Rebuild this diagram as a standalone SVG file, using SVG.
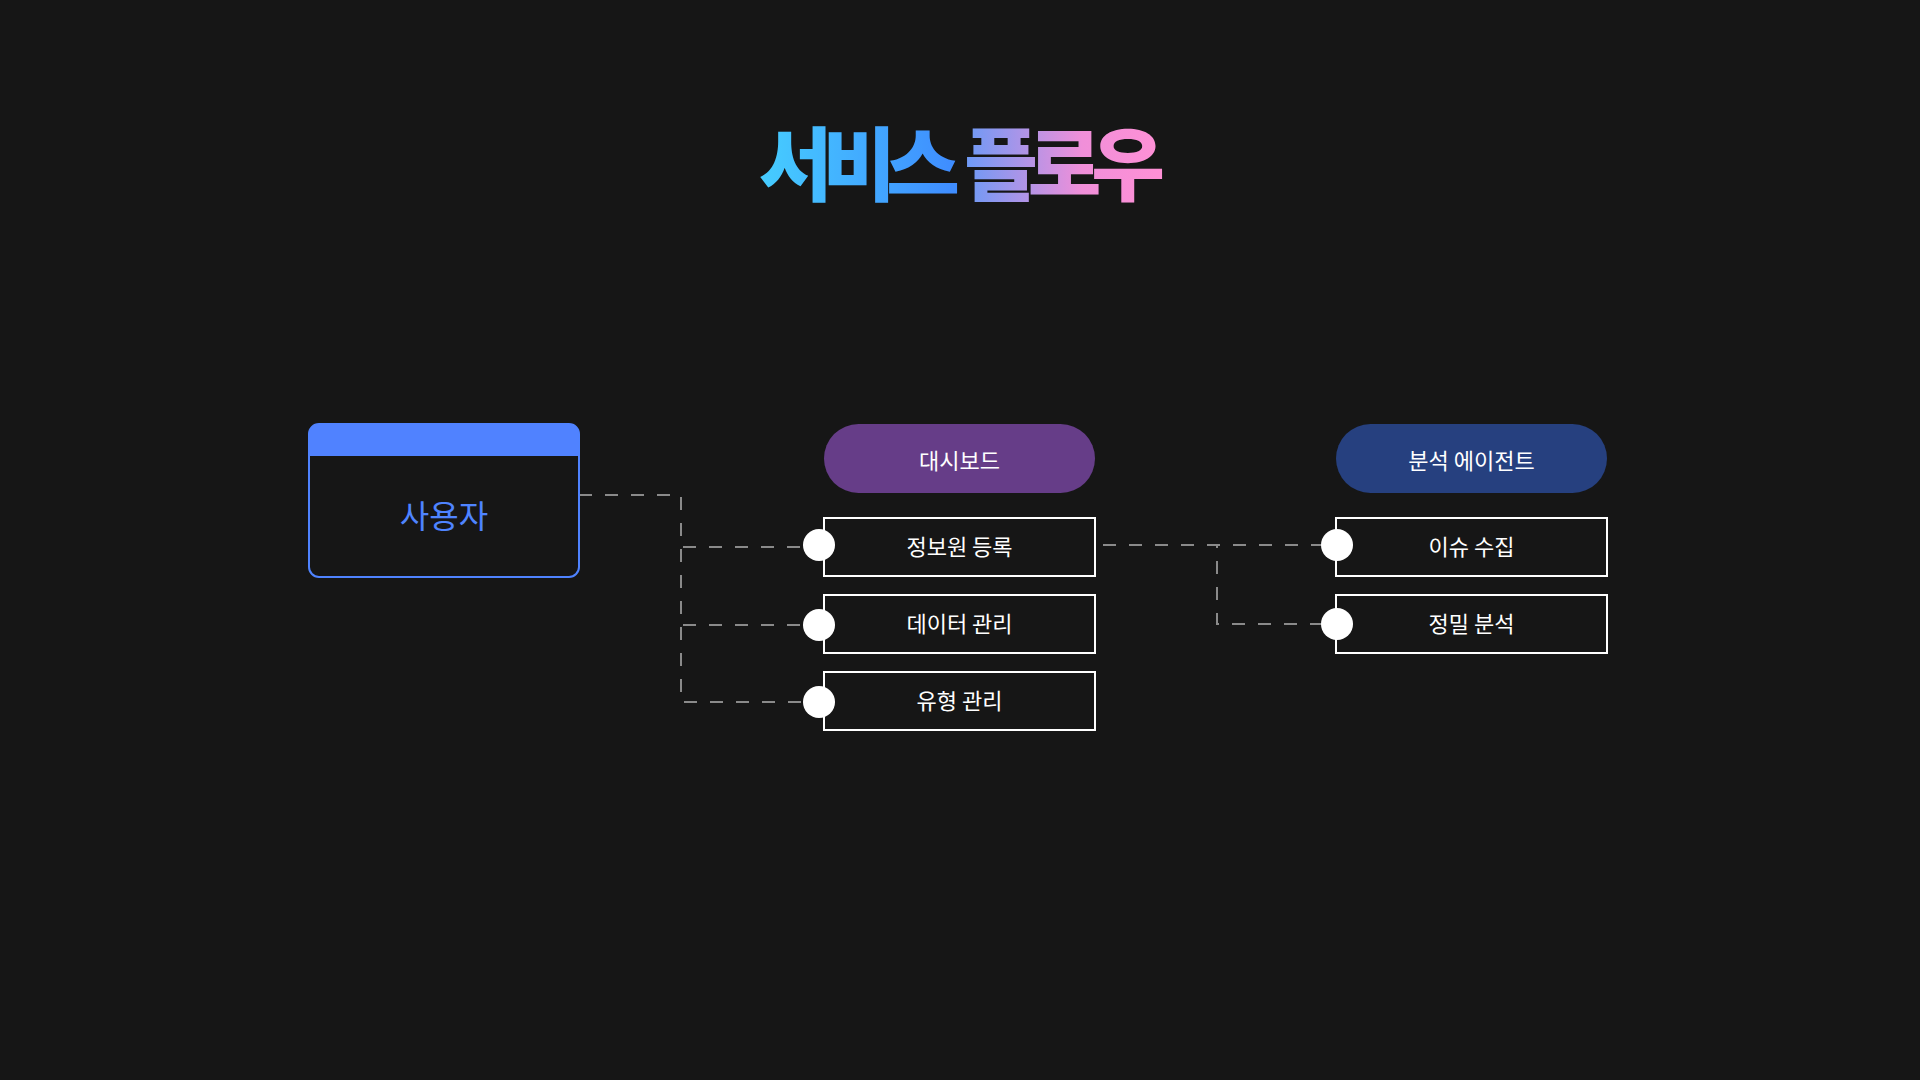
<svg xmlns="http://www.w3.org/2000/svg" width="1920" height="1080" viewBox="0 0 1920 1080">
  <defs>
    <linearGradient id="g1" gradientUnits="userSpaceOnUse" x1="758" y1="0" x2="952" y2="0">
      <stop offset="0" stop-color="#46ceff"/>
      <stop offset="1" stop-color="#3f8dff"/>
    </linearGradient>
    <linearGradient id="g2" gradientUnits="userSpaceOnUse" x1="965" y1="0" x2="1160" y2="0">
      <stop offset="0" stop-color="#6c9af6"/>
      <stop offset="0.6" stop-color="#f08fd9"/>
      <stop offset="1" stop-color="#ff90d6"/>
    </linearGradient>
    <style>
      .lbl { font-family: "Noto Sans CJK KR", "Noto Sans", sans-serif; font-size: 22px; fill: #ffffff; text-anchor: middle; }
      .box { fill: #161616; stroke: #ffffff; stroke-width: 2; }
      .dot { fill: #ffffff; }
      .conn { fill: none; stroke: #8a8a8a; stroke-width: 2; stroke-dasharray: 13 13; }
    </style>
  </defs>
  <rect width="1920" height="1080" fill="#161616"/>

  <text x="957" y="194" font-family="'Noto Sans CJK KR', sans-serif" font-weight="900" font-size="80" letter-spacing="-10" word-spacing="6" text-anchor="middle"><tspan fill="url(#g1)">서비스</tspan> <tspan fill="url(#g2)">플로우</tspan></text>

  <g id="connectors">
    <path class="conn" d="M579 495 H681 V547 H803"/>
    <path class="conn" d="M579 495 H681 V625 H803"/>
    <path class="conn" d="M579 495 H681 V702 H803"/>
    <path class="conn" d="M1103 545 H1321"/>
    <path class="conn" d="M1103 545 H1217 V624 H1321"/>
  </g>

  <g id="user">
    <rect x="309" y="424" width="270" height="153" rx="10" fill="#161616" stroke="#4f83ff" stroke-width="2"/>
    <path d="M309 456 V434 A10 10 0 0 1 319 424 H569 A10 10 0 0 1 579 434 V456 Z" fill="#5082ff"/>
    <text x="444" y="528" font-family="'Noto Sans CJK KR', sans-serif" font-size="32" fill="#4f84ff" text-anchor="middle">사용자</text>
  </g>

  <g id="dashboard">
    <rect x="824" y="424" width="271" height="69" rx="34.5" fill="#663d88"/>
    <text class="lbl" x="959.5" y="469">대시보드</text>
  </g>
  <g id="source-register">
    <rect class="box" x="824" y="518" width="271" height="58"/>
    <circle class="dot" cx="819" cy="545" r="16"/>
    <text class="lbl" x="959.5" y="555">정보원 등록</text>
  </g>
  <g id="data-manage">
    <rect class="box" x="824" y="595" width="271" height="58"/>
    <circle class="dot" cx="819" cy="625" r="16"/>
    <text class="lbl" x="959.5" y="632">데이터 관리</text>
  </g>
  <g id="type-manage">
    <rect class="box" x="824" y="672" width="271" height="58"/>
    <circle class="dot" cx="819" cy="702" r="16"/>
    <text class="lbl" x="959.5" y="709">유형 관리</text>
  </g>

  <g id="agent">
    <rect x="1336" y="424" width="271" height="69" rx="34.5" fill="#26407f"/>
    <text class="lbl" x="1471.5" y="469">분석 에이전트</text>
  </g>
  <g id="issue-collect">
    <rect class="box" x="1336" y="518" width="271" height="58"/>
    <circle class="dot" cx="1337" cy="545" r="16"/>
    <text class="lbl" x="1471.5" y="555">이슈 수집</text>
  </g>
  <g id="deep-analysis">
    <rect class="box" x="1336" y="595" width="271" height="58"/>
    <circle class="dot" cx="1337" cy="624" r="16"/>
    <text class="lbl" x="1471.5" y="632">정밀 분석</text>
  </g>
</svg>
